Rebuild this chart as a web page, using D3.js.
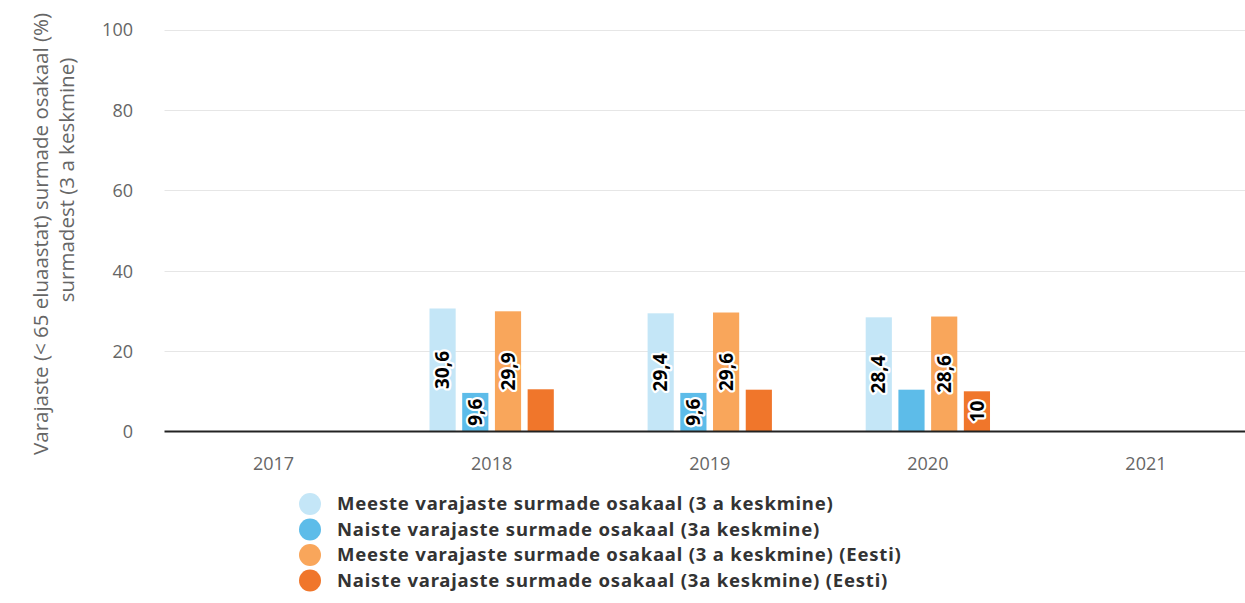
<!DOCTYPE html>
<html>
<head>
<meta charset="utf-8">
<script src="https://cdn.jsdelivr.net/npm/d3@7"></script>
<style>
  html, body { margin: 0; padding: 0; background: #fff; }
  svg { display: block; }
</style>
</head>
<body>
<svg id="chart" width="1245" height="603"></svg>
<script>
const categories = ["2017", "2018", "2019", "2020", "2021"];
const seriesNames = [
  "Meeste varajaste surmade osakaal (3 a keskmine)",
  "Naiste varajaste surmade osakaal (3a keskmine)",
  "Meeste varajaste surmade osakaal (3 a keskmine) (Eesti)",
  "Naiste varajaste surmade osakaal (3a keskmine) (Eesti)"
];
const menLocal   = [null, 30.6, 29.4, 28.4, null];
const womenLocal = [null, 9.6, 9.6, 10.4, null];
const menEst     = [null, 29.9, 29.6, 28.6, null];
const womenEst   = [null, 10.5, 10.4, 10, null];
// which data labels are visible in the original (others hidden by overlap)
const labelMenLocal   = [false, true, true, true, false];
const labelWomenLocal = [false, true, true, false, false];
const labelMenEst     = [false, true, true, true, false];
const labelWomenEst   = [false, false, false, true, false];
const yTicks = [0, 20, 40, 60, 80, 100];
const yTitle = ["Varajaste (< 65 eluaastat) surmade osakaal (%)", "surmadest (3 a keskmine)"];

const seriesValues = [menLocal, womenLocal, menEst, womenEst];
const seriesLabels = [labelMenLocal, labelWomenLocal, labelMenEst, labelWomenEst];
const colors = ["#c4e6f7", "#5dbce9", "#f9a65b", "#f0762b"];

const svg = d3.select("#chart");
const plotLeft = 164.5, plotRight = 1255, plotTop = 29.5, plotBottom = 431.5;

const x = d3.scaleBand().domain(categories).range([plotLeft, plotRight]).padding(0);
const xInner = d3.scaleBand().domain(d3.range(seriesValues.length))
  .range([0.2 * x.bandwidth(), 0.8 * x.bandwidth()])
  .paddingInner(0.2).paddingOuter(0.1);
const y = d3.scaleLinear().domain([0, 100]).range([plotBottom, plotTop]);

// gridlines
svg.append("g").selectAll("line").data(yTicks.filter(d => d !== 0)).join("line")
  .attr("x1", plotLeft).attr("x2", 1245)
  .attr("y1", d => Math.round(y(d)) + 0.5).attr("y2", d => Math.round(y(d)) + 0.5)
  .attr("stroke", "#e6e6e6").attr("stroke-width", 1);

// y axis labels
const yAxis = d3.axisLeft(y).tickValues(yTicks).tickSize(0).tickPadding(0);
const yg = svg.append("g").attr("transform", "translate(133,0)").call(yAxis);
yg.select(".domain").remove();
yg.selectAll("text").attr("font-family", "'Open Sans', sans-serif").attr("font-size", 18)
  .attr("fill", "#666").attr("dy", "0.35em");

// x axis
const xAxis = d3.axisBottom(x).tickSize(0).tickPadding(0);
const xg = svg.append("g").attr("transform", `translate(0,${plotBottom})`).call(xAxis);
xg.select(".domain").remove();
xg.selectAll("text").attr("font-family", "'Open Sans', sans-serif").attr("font-size", 18)
  .attr("fill", "#666").attr("y", 32).attr("dy", "0.35em");

// bars
const barsG = svg.append("g");
seriesValues.forEach((vals, si) => {
  barsG.append("g").selectAll("rect")
    .data(categories.map((c, i) => ({c, v: vals[i]})).filter(d => d.v != null))
    .join("rect")
    .attr("x", d => x(d.c) + xInner(si))
    .attr("width", xInner.bandwidth())
    .attr("y", d => y(d.v))
    .attr("height", d => y(0) - y(d.v))
    .attr("fill", colors[si]);
});

// axis line
svg.append("line").attr("x1", plotLeft).attr("x2", 1245)
  .attr("y1", plotBottom).attr("y2", plotBottom)
  .attr("stroke", "#222").attr("stroke-width", 2);

// data labels
const fmt = v => String(v).replace(".", ",");
const labelsG = svg.append("g");
seriesValues.forEach((vals, si) => {
  const data = categories.map((c, i) => ({c, v: vals[i], show: seriesLabels[si][i]}))
    .filter(d => d.v != null && d.show);
  labelsG.append("g").selectAll("text").data(data).join("text")
    .attr("transform", d => {
      const cx = x(d.c) + xInner(si) + xInner.bandwidth() / 2;
      const cy = (y(d.v) + y(0)) / 2;
      return `translate(${cx},${cy}) rotate(-90)`;
    })
    .attr("text-anchor", "middle").attr("dy", "0.35em")
    .attr("font-family", "'Noto Sans', sans-serif").attr("font-weight", 700)
    .attr("font-size", 19).attr("fill", "#000")
    .attr("stroke", "#fff").attr("stroke-width", 4.5).attr("stroke-linejoin", "round")
    .attr("paint-order", "stroke")
    .text(d => fmt(d.v));
});

// y axis title
const yt = svg.append("g").attr("font-family", "'Open Sans', sans-serif")
  .attr("font-size", 20.5).attr("fill", "#666");
yt.append("text").attr("transform", "translate(48,234) rotate(-90)")
  .attr("text-anchor", "middle").text(yTitle[0]);
yt.append("text").attr("transform", "translate(74,180) rotate(-90)")
  .attr("text-anchor", "middle").text(yTitle[1]);

// legend
const legend = svg.append("g");
const rowY = [504, 529.5, 555, 580.5];
seriesNames.forEach((name, i) => {
  const g = legend.append("g").attr("transform", `translate(310,${rowY[i]})`);
  g.append("circle").attr("r", 11).attr("fill", colors[i]);
  g.append("text").attr("x", 27).attr("dy", "0.35em")
    .attr("font-family", "'Noto Sans', sans-serif").attr("font-weight", 700)
    .attr("font-size", 18.5).attr("letter-spacing", 0.8)
    .attr("fill", "#333").text(name);
});
</script>
</body>
</html>
